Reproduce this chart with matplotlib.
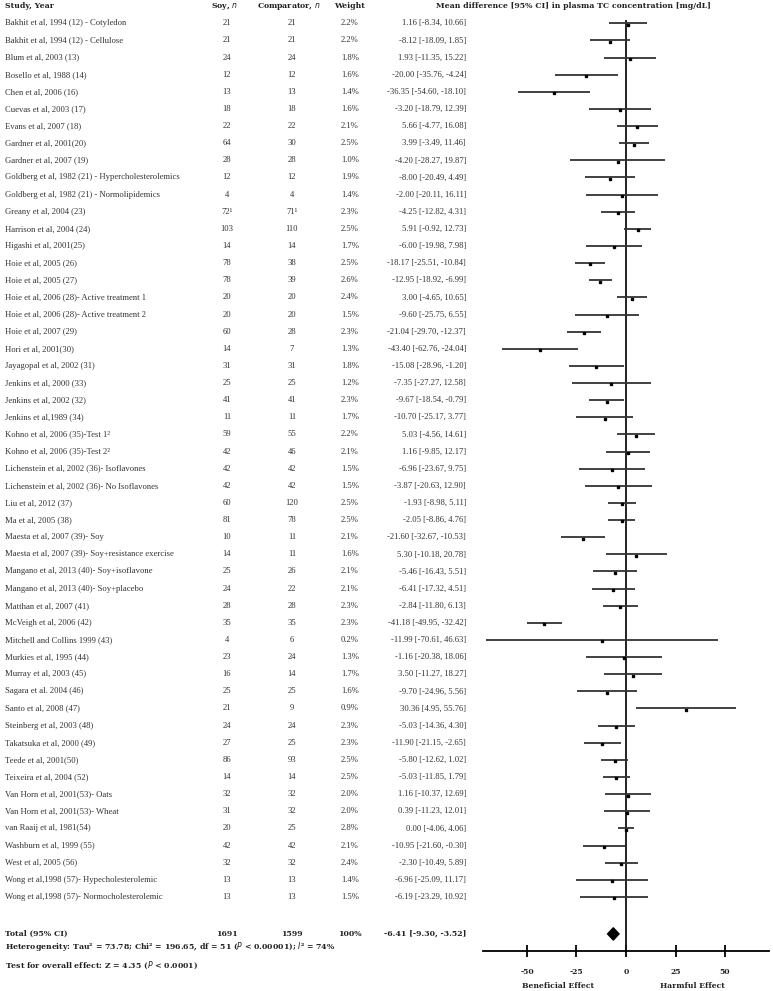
import numpy as np
import matplotlib
matplotlib.use('Agg')
import matplotlib.pyplot as plt
from matplotlib.patches import Polygon
from matplotlib.transforms import blended_transform_factory

# study data
studies = [
    'Bakhit et al, 1994 (12) - Cotyledon', 'Bakhit et al, 1994 (12) - Cellulose',
    'Blum et al, 2003 (13)', 'Bosello et al, 1988 (14)', 'Chen et al, 2006 (16)',
    'Cuevas et al, 2003 (17)', 'Evans et al, 2007 (18)', 'Gardner et al, 2001(20)',
    'Gardner et al, 2007 (19)', 'Goldberg et al, 1982 (21) - Hypercholesterolemics',
    'Goldberg et al, 1982 (21) - Normolipidemics', 'Greany et al, 2004 (23)',
    'Harrison et al, 2004 (24)', 'Higashi et al, 2001(25)', 'Hoie et al, 2005 (26)',
    'Hoie et al, 2005 (27)', 'Hoie et al, 2006 (28)- Active treatment 1',
    'Hoie et al, 2006 (28)- Active treatment 2', 'Hoie et al, 2007 (29)',
    'Hori et al, 2001(30)', 'Jayagopal et al, 2002 (31)', 'Jenkins et al, 2000 (33)',
    'Jenkins et al, 2002 (32)', 'Jenkins et al,1989 (34)', 'Kohno et al, 2006 (35)-Test 1²',
    'Kohno et al, 2006 (35)-Test 2²', 'Lichenstein et al, 2002 (36)- Isoflavones',
    'Lichenstein et al, 2002 (36)- No Isoflavones', 'Liu et al, 2012 (37)',
    'Ma et al, 2005 (38)', 'Maesta et al, 2007 (39)- Soy',
    'Maesta et al, 2007 (39)- Soy+resistance exercise',
    'Mangano et al, 2013 (40)- Soy+isoflavone', 'Mangano et al, 2013 (40)- Soy+placebo',
    'Matthan et al, 2007 (41)', 'McVeigh et al, 2006 (42)', 'Mitchell and Collins 1999 (43)',
    'Murkies et al, 1995 (44)', 'Murray et al, 2003 (45)', 'Sagara et al. 2004 (46)',
    'Santo et al, 2008 (47)', 'Steinberg et al, 2003 (48)', 'Takatsuka et al, 2000 (49)',
    'Teede et al, 2001(50)', 'Teixeira et al, 2004 (52)', 'Van Horn et al, 2001(53)- Oats',
    'Van Horn et al, 2001(53)- Wheat', 'van Raaij et al, 1981(54)', 'Washburn et al, 1999 (55)',
    'West et al, 2005 (56)', 'Wong et al,1998 (57)- Hypecholesterolemic',
    'Wong et al,1998 (57)- Normocholesterolemic',
]
soy_n = ['21', '21', '24', '12', '13', '18', '22', '64', '28', '12', '4', '72¹', '103', '14',
         '78', '78', '20', '20', '60', '14', '31', '25', '41', '11', '59', '42', '42', '42',
         '60', '81', '10', '14', '25', '24', '28', '35', '4', '23', '16', '25', '21', '24',
         '27', '86', '14', '32', '31', '20', '42', '32', '13', '13']
comp_n = ['21', '21', '24', '12', '13', '18', '22', '30', '28', '12', '4', '71¹', '110', '14',
          '38', '39', '20', '20', '28', '7', '31', '25', '41', '11', '55', '46', '42', '42',
          '120', '78', '11', '11', '26', '22', '28', '35', '6', '24', '14', '25', '9', '24',
          '25', '93', '14', '32', '32', '25', '42', '32', '13', '13']
weights = [2.2, 2.2, 1.8, 1.6, 1.4, 1.6, 2.1, 2.5, 1.0, 1.9, 1.4, 2.3, 2.5, 1.7, 2.5, 2.6,
           2.4, 1.5, 2.3, 1.3, 1.8, 1.2, 2.3, 1.7, 2.2, 2.1, 1.5, 1.5, 2.5, 2.5, 2.1, 1.6,
           2.1, 2.1, 2.3, 2.3, 0.2, 1.3, 1.7, 1.6, 0.9, 2.3, 2.3, 2.5, 2.5, 2.0, 2.0, 2.8,
           2.1, 2.4, 1.4, 1.5]
md = [1.16, -8.12, 1.93, -20.00, -36.35, -3.20, 5.66, 3.99, -4.20, -8.00, -2.00, -4.25,
      5.91, -6.00, -18.17, -12.95, 3.00, -9.60, -21.04, -43.40, -15.08, -7.35, -9.67,
      -10.70, 5.03, 1.16, -6.96, -3.87, -1.93, -2.05, -21.60, 5.30, -5.46, -6.41, -2.84,
      -41.18, -11.99, -1.16, 3.50, -9.70, 30.36, -5.03, -11.90, -5.80, -5.03, 1.16, 0.39,
      0.00, -10.95, -2.30, -6.96, -6.19]
lo = [-8.34, -18.09, -11.35, -35.76, -54.60, -18.79, -4.77, -3.49, -28.27, -20.49, -20.11,
      -12.82, -0.92, -19.98, -25.51, -18.92, -4.65, -25.75, -29.70, -62.76, -28.96, -27.27,
      -18.54, -25.17, -4.56, -9.85, -23.67, -20.63, -8.98, -8.86, -32.67, -10.18, -16.43,
      -17.32, -11.80, -49.95, -70.61, -20.38, -11.27, -24.96, 4.95, -14.36, -21.15, -12.62,
      -11.85, -10.37, -11.23, -4.06, -21.60, -10.49, -25.09, -23.29]
hi = [10.66, 1.85, 15.22, -4.24, -18.10, 12.39, 16.08, 11.46, 19.87, 4.49, 16.11, 4.31,
      12.73, 7.98, -10.84, -6.99, 10.65, 6.55, -12.37, -24.04, -1.20, 12.58, -0.79, 3.77,
      14.61, 12.17, 9.75, 12.90, 5.11, 4.76, -10.53, 20.78, 5.51, 4.51, 6.13, -32.42, 46.63,
      18.06, 18.27, 5.56, 55.76, 4.30, -2.65, 1.02, 1.79, 12.69, 12.01, 4.06, -0.30, 5.89,
      11.17, 10.92]

total_md, total_lo, total_hi = -6.41, -9.30, -3.52
total_soy, total_comp = 1691, 1599
xticks = [-50, -25, 0, 25, 50]

W, H = 773, 991
fig = plt.figure(figsize=(W / 100, H / 100), dpi=100)
fig.patch.set_facecolor('white')

# row geometry (pixels)
y0, dy = 23.3, 17.13
top_row = -y0 / dy
axis_row = (951 - y0) / dy
ax = fig.add_axes([483 / W, 1 - 951 / H, (769 - 483) / W, 951 / H])
ax.set_xlim(-72.2, 72.2)
ax.set_ylim(axis_row, top_row)
for s in ['top', 'left', 'right']:
    ax.spines[s].set_visible(False)
ax.spines['bottom'].set_linewidth(1.3)
ax.set_yticks([])
ax.set_xticks(xticks)
ax.set_xticklabels([str(t) for t in xticks], fontfamily='DejaVu Serif',
                   fontweight='bold', fontsize=5.5, color='#222222')
ax.tick_params(axis='x', direction='inout', length=8, width=1.3, pad=8)

rows = np.arange(len(studies))
ax.vlines(0, -0.2, axis_row, color='#111111', lw=1.3)
ax.hlines(rows, lo, hi, color='#333333', lw=1.3)
ax.plot(md, rows + 0.08, 's', color='black', ms=2.0)

total_row = 51 + (934 - 897) / dy
diamond = Polygon([[total_lo, total_row], [total_md, total_row - 0.36],
                   [total_hi, total_row], [total_md, total_row + 0.36]],
                  closed=True, color='black')
ax.add_patch(diamond)

tr = blended_transform_factory(fig.transFigure, ax.transData)
reg = dict(fontfamily='Liberation Serif', fontsize=6.2, color='#333333',
           transform=tr, va='center', clip_on=False)
bold = dict(fontfamily='DejaVu Serif', fontweight='bold', fontsize=5.6,
            color='#222222', transform=tr, va='center', clip_on=False)

# headers
hdr = -1.0
fig.text(5 / W, 0, '', transform=tr)
ax.text(5 / W, hdr, 'Study, Year', ha='left', **bold)
ax.text(225 / W, hdr, 'Soy, $\\mathit{n}$', ha='center', **bold)
ax.text(289 / W, hdr, 'Comparator, $\\mathit{n}$', ha='center', **bold)
ax.text(349 / W, hdr, 'Weight', ha='center', **bold)
ax.text(573 / W, hdr, 'Mean difference [95% CI] in plasma TC concentration [mg/dL]',
        ha='center', **bold)

for i in rows:
    ax.text(5 / W, i, studies[i], ha='left', **reg)
    ax.text(227 / W, i, soy_n[i], ha='center', **reg)
    ax.text(292 / W, i, comp_n[i], ha='center', **reg)
    ax.text(350 / W, i, f'{weights[i]:.1f}%', ha='center', **reg)
    ax.text(466 / W, i, f'{md[i]:.2f} [{lo[i]:.2f}, {hi[i]:.2f}]', ha='right', **reg)

ax.text(5 / W, total_row, 'Total (95% CI)', ha='left', **bold)
ax.text(227 / W, total_row, str(total_soy), ha='center', **bold)
ax.text(292 / W, total_row, str(total_comp), ha='center', **bold)
ax.text(350 / W, total_row, '100%', ha='center', **bold)
ax.text(466 / W, total_row, f'{total_md:.2f} [{total_lo:.2f}, {total_hi:.2f}]',
        ha='right', **bold)

het_row = 51 + (947 - 897) / dy
test_row = 51 + (965.7 - 897) / dy
ax.text(5 / W, het_row,
        'Heterogeneity: Tau² = 73.78; Chi² = 196.65, df = 51 ($\\mathit{P}$ < 0.00001); '
        '$\\mathit{I}$² = 74%', ha='left', **bold)
ax.text(5 / W, test_row, 'Test for overall effect: Z = 4.35 ($\\mathit{P}$ < 0.0001)',
        ha='left', **bold)

lab_row = 51 + (986 - 897) / dy
ax.text(-34.3, lab_row, 'Beneficial Effect', ha='center', va='center',
        fontfamily='DejaVu Serif', fontweight='bold', fontsize=5.5, color='#222222',
        clip_on=False)
ax.text(33.3, lab_row, 'Harmful Effect', ha='center', va='center',
        fontfamily='DejaVu Serif', fontweight='bold', fontsize=5.5, color='#222222',
        clip_on=False)

fig.savefig('out.png', dpi=100, facecolor='white')
